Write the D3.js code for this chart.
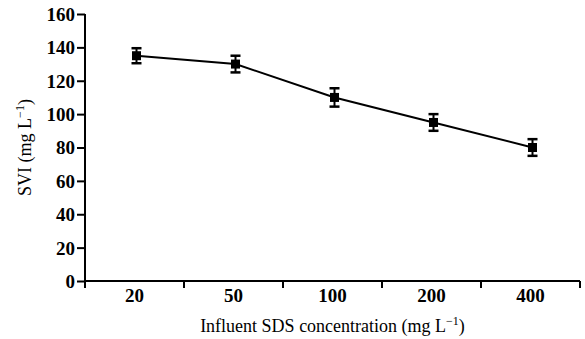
<!DOCTYPE html>
<html>
<head>
<meta charset="utf-8">
<script src="https://cdn.jsdelivr.net/npm/d3@7"></script>
<style>
  html, body { margin: 0; padding: 0; background: #fff; }
  svg { display: block; }
  text { font-family: "Liberation Serif", "Times New Roman", "DejaVu Serif", serif; fill: #000; }
</style>
</head>
<body>
<svg id="chart" width="585" height="339"></svg>
<script>
const categories = ["20", "50", "100", "200", "400"];
const svi = [135, 130, 110, 95, 80];
const sviErr = [4.5, 5, 5.5, 5, 5];
const yTicks = [0, 20, 40, 60, 80, 100, 120, 140, 160];

const FONT = '"Liberation Serif", "Times New Roman", "DejaVu Serif", serif';
const svg = d3.select("#chart");
const mLeft = 85, mRight = 580, mTop = 14, mBottom = 281;

const x = d3.scaleBand().domain(categories).range([mLeft, mRight]).padding(0);
const y = d3.scaleLinear().domain([0, 160]).range([mBottom, mTop]);

// y axis
const yAxis = d3.axisLeft(y).tickValues(yTicks).tickSize(8).tickPadding(2);
const gy = svg.append("g").attr("transform", `translate(${mLeft},0)`).call(yAxis);
gy.attr("font-family", null).attr("font-size", null);
gy.select(".domain").attr("stroke", "#000").attr("stroke-width", 2).attr("d", `M0,${mTop}V${mBottom + 7}`);
gy.selectAll(".tick line").attr("stroke", "#000").attr("stroke-width", 2);
gy.selectAll(".tick text").style("font-family", FONT).style("font-weight", "bold")
  .style("font-size", "19px").attr("fill", "#000").attr("dy", "0.34em");

// x axis: ticks at band boundaries
const gx = svg.append("g").attr("transform", `translate(0,${mBottom})`);
gx.append("path").attr("d", `M${mLeft},0H${mRight}`).attr("stroke", "#000").attr("stroke-width", 2).attr("fill", "none");
const bounds = categories.slice(1).map(c => x(c)).concat([x(categories[categories.length - 1]) + x.bandwidth()]);
gx.selectAll("line.bt").data(bounds).join("line").attr("class", "bt")
  .attr("x1", d => d).attr("x2", d => d).attr("y1", 0).attr("y2", 7)
  .attr("stroke", "#000").attr("stroke-width", 2);
gx.selectAll("text.xl").data(categories).join("text").attr("class", "xl")
  .attr("x", d => x(d) + x.bandwidth() / 2).attr("y", 21)
  .attr("text-anchor", "middle").style("font-family", FONT).style("font-weight", "bold").style("font-size", "19px")
  .text(d => d);

// line
const cx = d => x(d) + x.bandwidth() / 2 + 2;
const pts = categories.map((c, i) => ({c, v: svi[i], e: sviErr[i]}));
svg.append("path").datum(pts)
  .attr("d", d3.line().x(d => cx(d.c)).y(d => y(d.v)))
  .attr("fill", "none").attr("stroke", "#000").attr("stroke-width", 2);

// error bars
const eg = svg.selectAll("g.err").data(pts).join("g").attr("class", "err");
eg.append("line").attr("x1", d => cx(d.c)).attr("x2", d => cx(d.c))
  .attr("y1", d => y(d.v + d.e)).attr("y2", d => y(d.v - d.e)).attr("stroke", "#000").attr("stroke-width", 2);
eg.append("line").attr("x1", d => cx(d.c) - 5).attr("x2", d => cx(d.c) + 5)
  .attr("y1", d => y(d.v + d.e)).attr("y2", d => y(d.v + d.e)).attr("stroke", "#000").attr("stroke-width", 2.5);
eg.append("line").attr("x1", d => cx(d.c) - 5).attr("x2", d => cx(d.c) + 5)
  .attr("y1", d => y(d.v - d.e)).attr("y2", d => y(d.v - d.e)).attr("stroke", "#000").attr("stroke-width", 2.5);
eg.append("rect").attr("x", d => cx(d.c) - 4.5).attr("y", d => y(d.v) - 4.5)
  .attr("width", 9).attr("height", 9).attr("fill", "#000");

// axis titles
const xt = svg.append("text").attr("x", (mLeft + mRight) / 2).attr("y", 332)
  .attr("text-anchor", "middle").style("font-family", FONT).style("font-size", "18px");
xt.append("tspan").text("Influent SDS concentration (mg L");
xt.append("tspan").attr("dy", -7).style("font-size", "12px").text("\u22121");
xt.append("tspan").attr("dy", 7).text(")");

const yt = svg.append("text").attr("transform", `translate(31,${(mTop + mBottom) / 2}) rotate(-90)`)
  .attr("text-anchor", "middle").style("font-family", FONT).style("font-size", "18px");
yt.append("tspan").text("SVI (mg L");
yt.append("tspan").attr("dy", -7).style("font-size", "12px").text("\u22121");
yt.append("tspan").attr("dy", 7).text(")");
</script>
</body>
</html>
